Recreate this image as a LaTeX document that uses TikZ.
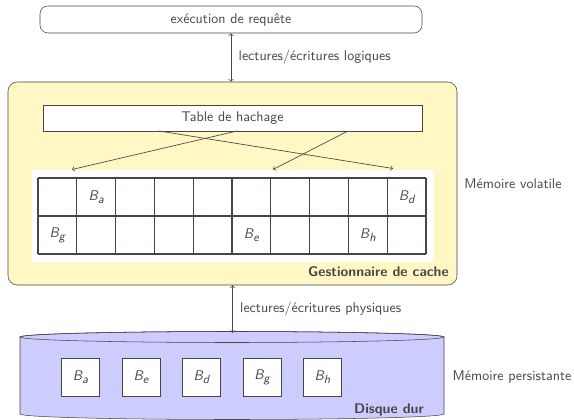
\documentclass[tikz,border=0pt]{standalone}
\usepackage{fontspec}
\renewcommand{\familydefault}{\sfdefault}
\definecolor{linec}{HTML}{4A4444}
\definecolor{cacheyellow}{HTML}{FFF8C4}
\definecolor{diskblue}{HTML}{CCCCFF}
\newcommand{\blkname}[1]{{\itshape B}\raisebox{-0.5ex}{\small\itshape #1}}
\tikzset{
  pxc/.style={x=0.75pt,y=0.75pt},
  topbox/.style={draw=linec, rounded corners=6pt, minimum width=286.5pt, minimum height=20.25pt, inner sep=0pt},
  cachebox/.style={draw=linec, fill=cacheyellow, rounded corners=7pt, minimum width=336.75pt, minimum height=152.25pt, inner sep=0pt},
  tablebox/.style={draw=linec, fill=white, minimum width=284.25pt, minimum height=19.5pt, inner sep=0pt},
  poolbg/.style={fill=white, minimum width=301.5pt, minimum height=69pt, inner sep=0pt},
  cellbox/.style={minimum width=29.1pt, minimum height=28.5pt, inner sep=0pt},
  gridlines/.style={draw=linec, line width=0.9pt},
  diskblock/.style={draw=linec, fill=white, minimum width=28.5pt, minimum height=28.5pt, inner sep=0pt},
  conn/.style={draw=linec, line width=0.5pt},
  plain/.style={inner sep=0pt, text=linec},
}
\begin{document}
\begin{tikzpicture}[pxc, font=\fontsize{10.5}{12.6}\selectfont]
\useasboundingbox (0,0) rectangle (574,-420);
% top box
\node[topbox, text=linec] (exec) at (231,-19.5) {exécution de requête};
% cache manager
\node[cachebox] (cache) at (232.5,-183.5) {};
\node[tablebox, text=linec] (hash) at (232.5,-118) {Table de hachage};
\node[poolbg] (pool) at (233,-216) {};
\foreach \i in {1,...,10}{
  \foreach \j in {1,2}{
    \node[cellbox] (c-\i-\j) at ({38+38.8*(\i-0.5)},{-178-38*(\j-0.5)}) {};
  }
}
\draw[gridlines, shift={(38,-254)}] (0,0) grid[xstep=29.1pt, ystep=28.5pt] (388,76);
\node[plain] (ba) at (c-2-1) {\blkname{a}};
\node[plain] (bd) at (c-10-1) {\blkname{d}};
\node[plain] (bg) at (c-1-2) {\blkname{g}};
\node[plain] (be) at (c-6-2) {\blkname{e}};
\node[plain] (bh) at (c-9-2) {\blkname{h}};
\node[plain, anchor=base east, font=\fontsize{10.5}{12.6}\selectfont\bfseries] (gest) at (449,-276.5) {Gestionnaire de cache};
% hash arrows
\coordinate (h1) at (237,-131);
\coordinate (h2) at (159,-131);
\coordinate (h3) at (348,-131);
\coordinate (t1) at (72,-169.5);
\coordinate (t2) at (393,-168.5);
\coordinate (t3) at (273,-169.5);
\draw[conn,->] (h1) -- (t1);
\draw[conn,->] (h2) -- (t2);
\draw[conn,->] (h3) -- (t3);
% logical arrow
\draw[conn,<->] (exec.south) -- (exec.south |- cache.north) node[midway, right=5.5pt, plain] (lread) {lectures/écritures logiques};
% disk
\path[draw=linec, fill=diskblue] (20,-337) -- (20,-414) arc[start angle=180, end angle=360, x radius=159pt, y radius=4.125pt] -- (444,-337) arc[start angle=0, end angle=180, x radius=159pt, y radius=4.125pt] -- cycle;
\draw[draw=linec] (232,-337) ellipse [x radius=159pt, y radius=4.125pt];
\coordinate (disktop) at (232,-332.9);
\draw[conn,<->] (cache.south) -- (cache.south |- disktop) node[midway, right=5.5pt, plain] (pread) {lectures/écritures physiques};
\node[diskblock, text=linec] (d1) at (80.5,-377) {\blkname{a}};
\node[diskblock, text=linec] (d2) at (141,-377) {\blkname{e}};
\node[diskblock, text=linec] (d3) at (201.5,-377) {\blkname{d}};
\node[diskblock, text=linec] (d4) at (262,-377) {\blkname{g}};
\node[diskblock, text=linec] (d5) at (322.5,-377) {\blkname{h}};
\node[plain, anchor=base east, font=\fontsize{10.5}{12.6}\selectfont\bfseries] (disk) at (424,-413) {Disque dur};
% side labels
\node[plain] (vol) at (513,-184) {Mémoire volatile};
\node[plain] (pers) at (512,-377) {Mémoire persistante};
\end{tikzpicture}
\end{document}
